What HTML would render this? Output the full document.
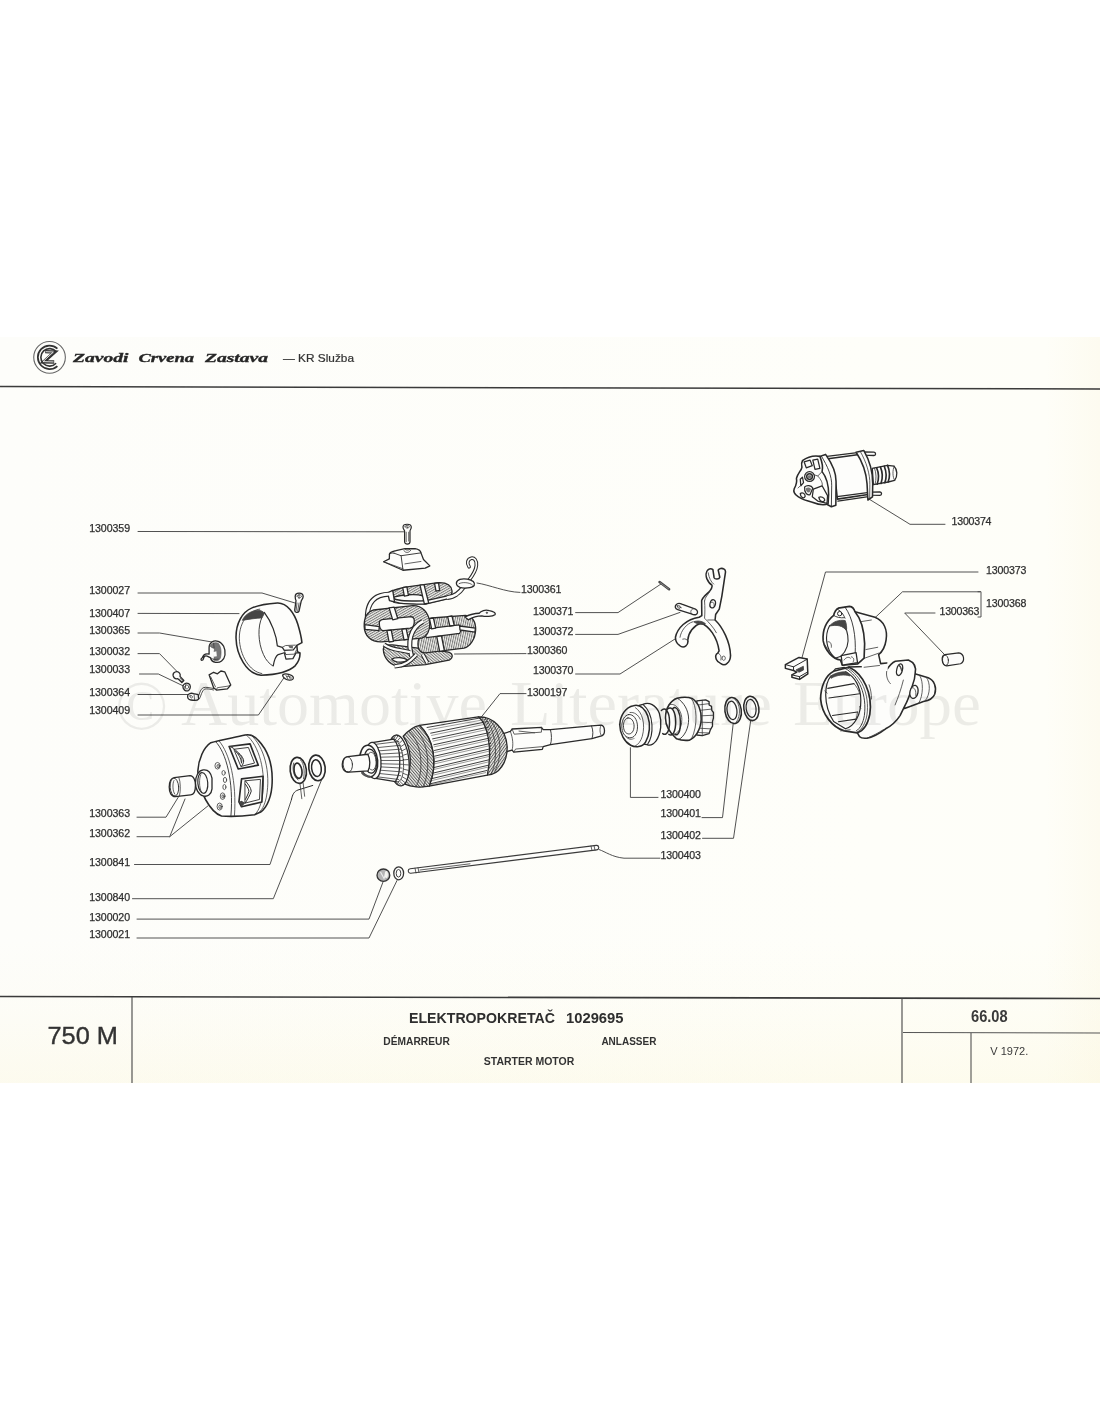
<!DOCTYPE html>
<html lang="sr"><head><meta charset="utf-8"><title>Elektropokretač 1029695 — 750 M</title>
<style>
html,body{margin:0;padding:0;background:#fff;}
body{width:1100px;height:1422px;overflow:hidden;font-family:"Liberation Sans",sans-serif;}
svg{display:block;}
.ln,.pt,.nf,.th,.dk,.hk{vector-effect:non-scaling-stroke;}
.ln{fill:none;stroke:#484848;stroke-width:0.95;stroke-linecap:round;stroke-linejoin:round;}
.pt{fill:#fdfdfb;stroke:#2a2a2a;stroke-width:1.3;stroke-linecap:round;stroke-linejoin:round;}
.nf{fill:none;stroke:#2a2a2a;stroke-width:1.25;stroke-linecap:round;stroke-linejoin:round;}
.th{fill:none;stroke:#3a3a3a;stroke-width:0.8;stroke-linecap:round;stroke-linejoin:round;}
.dk{fill:#444;stroke:#444;stroke-width:0.8;stroke-linejoin:round;}
.lb{font-family:"Liberation Sans",sans-serif;font-size:10.6px;fill:#2e2e2e;letter-spacing:0.1px;stroke:#2e2e2e;stroke-width:0.25px;}
</style></head><body>
<svg width="1100" height="1422" viewBox="0 0 1100 1422">
<!-- 00_bg.svg -->
<defs>
<filter id="soft" x="0" y="0" width="1100" height="1422" filterUnits="userSpaceOnUse"><feGaussianBlur stdDeviation="0.5"/></filter>
<linearGradient id="pg" x1="0" y1="0" x2="1" y2="0">
<stop offset="0" stop-color="#fdfdfa"/><stop offset="0.8" stop-color="#fefef9"/><stop offset="0.95" stop-color="#fefef8"/><stop offset="1" stop-color="#fdfbf0"/>
</linearGradient>
<pattern id="hatch" width="2.2" height="2.2" patternUnits="userSpaceOnUse" patternTransform="rotate(60)"><rect width="2.2" height="2.2" fill="#fdfdfb"/><line x1="0" y1="0" x2="0" y2="2.2" stroke="#333" stroke-width="1.5"/></pattern>
<pattern id="hatch2" width="2.6" height="2.6" patternUnits="userSpaceOnUse" patternTransform="rotate(-35)"><rect width="2.6" height="2.6" fill="#fdfdfb"/><line x1="0" y1="0" x2="0" y2="2.6" stroke="#333" stroke-width="1.3"/></pattern>
<linearGradient id="pgv" x1="0" y1="0" x2="0" y2="1"><stop offset="0" stop-color="#fbf6d8" stop-opacity="0"/><stop offset="0.45" stop-color="#fbf6d8" stop-opacity="0.10"/><stop offset="1" stop-color="#fbf4d0" stop-opacity="0.28"/></linearGradient>
</defs>
<rect x="0" y="0" width="1100" height="1422" fill="#ffffff"/>
<rect x="0" y="337" width="1100" height="746" fill="url(#pg)"/>
<rect x="0" y="940" width="1100" height="143" fill="url(#pgv)"/>
<!-- watermark -->


<g filter="url(#soft)">
<!-- 01_header.svg -->
<g id="header">
<line x1="0" y1="386.6" x2="1100" y2="389" stroke="#3a3a3a" stroke-width="1.5"/>
<g transform="translate(25 335) scale(0.054545)">
<circle cx="450" cy="410" r="290" fill="none" stroke="#666" stroke-width="20"/>
<path d="M594 250 A215 215 0 1 0 594 570" fill="none" stroke="#333" stroke-width="32"/>
<path d="M573 307 A160 160 0 1 0 569 517" fill="none" stroke="#333" stroke-width="30"/>
<path d="M370 305 L545 312 L345 492 L535 495" fill="none" stroke="#333" stroke-width="62" stroke-linejoin="miter"/>
<path d="M380 306 L520 312 L330 488 L525 494" fill="none" stroke="#fdfdfb" stroke-width="16" stroke-linejoin="miter"/>
</g>
<g font-family="'Liberation Serif',serif" font-weight="bold" font-style="italic" font-size="13.5" fill="#262626" stroke="#262626" stroke-width="0.35">
<text x="73" y="362.3" textLength="55.5" lengthAdjust="spacingAndGlyphs">Zavodi</text>
<text x="138.5" y="362.3" textLength="55.5" lengthAdjust="spacingAndGlyphs">Crvena</text>
<text x="205" y="362.3" textLength="63" lengthAdjust="spacingAndGlyphs">Zastava</text>
</g>
<text x="283" y="361.5" font-family="'Liberation Sans',sans-serif" font-size="10.2" fill="#333" stroke="#333" stroke-width="0.2" textLength="71" lengthAdjust="spacingAndGlyphs">— KR Služba</text>
</g>

<!-- 02_footer.svg -->
<g id="footer">
<line x1="0" y1="996.5" x2="1100" y2="998.5" stroke="#3a3a3a" stroke-width="1.6"/>
<line x1="132" y1="997" x2="132" y2="1083" stroke="#444" stroke-width="1.1"/>
<line x1="902" y1="998" x2="902" y2="1083" stroke="#444" stroke-width="1.1"/>
<line x1="903" y1="1032.5" x2="1100" y2="1033" stroke="#555" stroke-width="1"/>
<line x1="971" y1="1033" x2="971" y2="1083" stroke="#444" stroke-width="1"/>
<text x="47.5" y="1043.6" font-family="'Liberation Sans',sans-serif" font-size="23.4" fill="#333" stroke="#333" stroke-width="0.35" textLength="70.5" lengthAdjust="spacingAndGlyphs">750 M</text>
<text x="409" y="1023.2" font-family="'Liberation Sans',sans-serif" font-weight="bold" font-size="14" fill="#2e2e2e" textLength="146" lengthAdjust="spacingAndGlyphs">ELEKTROPOKRETAČ</text>
<text x="566" y="1023.2" font-family="'Liberation Sans',sans-serif" font-weight="bold" font-size="14" fill="#2e2e2e" textLength="57.5" lengthAdjust="spacingAndGlyphs">1029695</text>
<text x="383.3" y="1045" font-family="'Liberation Sans',sans-serif" font-weight="bold" font-size="10.8" fill="#333" textLength="66.5" lengthAdjust="spacingAndGlyphs">DÉMARREUR</text>
<text x="601.4" y="1045" font-family="'Liberation Sans',sans-serif" font-weight="bold" font-size="10.8" fill="#333" textLength="55" lengthAdjust="spacingAndGlyphs">ANLASSER</text>
<text x="483.8" y="1065.2" font-family="'Liberation Sans',sans-serif" font-weight="bold" font-size="10.8" fill="#333" textLength="90.5" lengthAdjust="spacingAndGlyphs">STARTER MOTOR</text>
<text x="971" y="1022" font-family="'Liberation Sans',sans-serif" font-weight="bold" font-size="15.8" fill="#3a3a3a" textLength="36.6" lengthAdjust="spacingAndGlyphs">66.08</text>
<text x="990.3" y="1055" font-family="'Liberation Sans',sans-serif" font-size="11" fill="#3a3a3a" textLength="38" lengthAdjust="spacingAndGlyphs">V 1972.</text>
</g>

<!-- 03_labels.svg -->
<g id="labels" class="lb">
<text x="89.2" y="531.5" textLength="41">1300359</text>
<text x="89.2" y="594.4" textLength="41">1300027</text>
<text x="89.2" y="616.6" textLength="41">1300407</text>
<text x="89.2" y="634.4" textLength="41">1300365</text>
<text x="89.2" y="654.7" textLength="41">1300032</text>
<text x="89.2" y="672.9" textLength="41">1300033</text>
<text x="89.2" y="695.6" textLength="41">1300364</text>
<text x="89.2" y="714.4" textLength="41">1300409</text>
<text x="89.2" y="816.6" textLength="41">1300363</text>
<text x="89.2" y="837.1" textLength="41">1300362</text>
<text x="89.2" y="865.6" textLength="41">1300841</text>
<text x="89.2" y="900.7" textLength="41">1300840</text>
<text x="89.2" y="920.5" textLength="41">1300020</text>
<text x="89.2" y="937.5" textLength="41">1300021</text>
<text x="521" y="592.5" textLength="40.5">1300361</text>
<text x="533" y="614.8" textLength="40.5">1300371</text>
<text x="533" y="634.8" textLength="40.5">1300372</text>
<text x="527" y="654.4" textLength="40.5">1300360</text>
<text x="533" y="674.4" textLength="40.5">1300370</text>
<text x="527" y="696" textLength="40.5">1300197</text>
<text x="660.6" y="797.6" textLength="40.5">1300400</text>
<text x="660.6" y="817.4" textLength="40.5">1300401</text>
<text x="660.6" y="838.6" textLength="40.5">1300402</text>
<text x="660.6" y="859" textLength="40.5">1300403</text>
<text x="951.6" y="525" textLength="40">1300374</text>
<text x="986" y="573.7" textLength="40.5">1300373</text>
<text x="986" y="606.6" textLength="40.5">1300368</text>
<text x="939.5" y="614.8" textLength="40">1300363</text>
</g>
<g id="leaders" class="ln">
<path d="M138 531.5 L403.6 531.8"/>
<path d="M138 593 L262 593 L295 603"/>
<path d="M138 613.4 L239 613.6"/>
<path d="M138 633 L159.5 633 L212 642"/>
<path d="M138 653.6 L159.5 653.6 L178 672.5"/>
<path d="M139.5 674 L158.4 674 L183.4 686"/>
<path d="M138 694.5 L189 694.5"/>
<path d="M138 715 L258.4 715 L284.5 677"/>
<path d="M137 817.2 L166 817.2 L179 796"/>
<path d="M137 836.7 L169.7 836.7 L185 799 M169.7 836.7 L207.8 806"/>
<path d="M134.5 864.5 L270 864.5 L291.5 799.5"/>
<path d="M132.5 898.7 L273.3 898.7 L321.5 780"/>
<path d="M137 919.1 L369 919.1 L383 882"/>
<path d="M137 938 L369 938 L397 880.5"/>
<path d="M520 592.4 C505 592 490 585 477 583"/>
<path d="M575.6 612.6 L618 612.6 L661 584"/>
<path d="M575.6 634.4 L618 634.4 L680 612.4"/>
<path d="M526 653.6 L454.5 654"/>
<path d="M575.6 674 L620 674 L675 639"/>
<path d="M526 693.6 L500 693.6 L475 725"/>
<path d="M658 797.4 L630.4 797.4 L630.4 747.7"/>
<path d="M702 817.6 L722.5 817.6 L733.5 721"/>
<path d="M702.5 838.3 L733.5 838.3 L751.4 715.8"/>
<path d="M660 858.2 L624 858.2 C612 857 606 852 599 849.5"/>
<path d="M945 524.3 L910 524.3 L869.7 499.5"/>
<path d="M978 572 L825.5 572 L801.7 658.7"/>
<path d="M980 591.8 L902.5 591.8 L874.7 618"/>
<path d="M978 591.7 L981 591.7 L981 617 L978 617"/>
<path d="M935 613 L904.7 613 L945.5 655.6"/>
</g>

<!-- 10_screw_shoe.svg -->
<g transform="translate(375 515) scale(0.063636)">
<path class="pt" d="M440 190 C440 130 570 130 570 190 C570 225 550 235 550 250 L550 420 C550 470 465 470 465 420 L465 250 C465 235 440 225 440 190 Z" style="stroke-width:1.2"/>
<path class="th" d="M470 180 C480 160 530 160 540 180 C535 215 480 215 470 180 M500 175 L512 200 M490 270 L490 420 M530 270 L530 410"/>
<path class="pt" d="M135 735 L225 690 L228 610 C235 585 280 575 330 560 L470 530 L630 528 C690 540 720 570 722 595 L762 700 L862 800 L790 835 L440 868 Z"/>
<path class="nf" d="M300 600 L410 640 L722 595 M410 640 L440 866 M300 600 C260 595 235 600 228 612" style="stroke-width:0.9"/>
<path class="th" d="M470 768 L722 730 M455 560 C470 600 540 600 560 555 M470 535 C480 560 540 560 555 532 M135 735 L440 845"/>
</g>

<!-- 11_coils.svg -->
<g transform="translate(340 550) scale(0.181818)">
<defs>
<pattern id="hc1" width="12" height="12" patternUnits="userSpaceOnUse" patternTransform="rotate(60)"><rect width="12" height="12" fill="#f0f0ec"/><line x1="3" y1="0" x2="3" y2="12" stroke="#555" stroke-width="4.2"/></pattern>
<pattern id="hc2" width="12" height="12" patternUnits="userSpaceOnUse" patternTransform="rotate(-50)"><rect width="12" height="12" fill="#f0f0ec"/><line x1="3" y1="0" x2="3" y2="12" stroke="#555" stroke-width="4.2"/></pattern>
<pattern id="hc3" width="12" height="12" patternUnits="userSpaceOnUse" patternTransform="rotate(12)"><rect width="12" height="12" fill="#f0f0ec"/><line x1="3" y1="0" x2="3" y2="12" stroke="#555" stroke-width="4.2"/></pattern>
</defs>
<!-- hook -->
<path d="M708 168 C730 140 748 110 750 85 C752 55 738 42 722 45 C702 50 696 72 710 92" fill="none" stroke="#2a2a2a" stroke-width="20" stroke-linecap="round"/>
<path d="M708 168 C730 140 748 110 750 85 C752 55 738 42 722 45 C702 50 696 72 710 92" fill="none" stroke="#fdfdfb" stroke-width="9" stroke-linecap="round"/>
<!-- top coil: back/top surface -->
<path class="pt" d="M268 240 C275 225 300 218 350 205 L540 180 C585 178 612 195 616 225 C618 245 608 258 596 266 L470 296 L322 292 C285 290 266 270 268 240 Z" style="fill:url(#hc1)"/>
<path class="pt" d="M300 258 C340 246 420 240 455 252 C475 262 470 280 440 288 C400 295 340 292 315 284 C295 276 290 266 300 258 Z"/>
<path class="pt" d="M272 272 C300 292 330 296 470 298 L598 268 L590 252 L468 280 C340 282 310 278 285 262 Z"/>
<path class="pt" d="M345 207 L368 203 L376 250 L354 254 Z M440 193 L462 190 L488 292 L464 296 Z M262 235 L290 222 L300 286 L272 278 Z M520 183 L542 181 L548 222 L528 226 Z"/>
<!-- lead left coil to top -->
<path d="M150 372 C150 300 180 245 268 243" fill="none" stroke="#2a2a2a" stroke-width="27"/>
<path d="M150 374 C150 300 180 245 270 243" fill="none" stroke="#fdfdfb" stroke-width="15"/>
<!-- lead top coil to lug -->
<path d="M590 262 C630 258 655 240 682 200" fill="none" stroke="#2a2a2a" stroke-width="26"/>
<path d="M588 262 C630 258 655 240 684 198" fill="none" stroke="#fdfdfb" stroke-width="14"/>
<path class="pt" d="M640 182 C642 162 670 155 700 160 C730 165 745 180 738 195 C725 210 680 212 660 206 C645 200 640 192 640 182 Z"/>
<path class="th" d="M655 185 C670 175 715 178 728 192"/>
<!-- bottom coil -->
<path class="pt" d="M238 545 C240 525 262 520 290 522 L590 560 C622 566 626 590 600 606 L470 630 L340 642 C280 640 240 600 238 545 Z" style="fill:url(#hc2)"/>
<path class="pt" d="M285 600 C305 588 350 590 372 605 C355 622 305 622 285 600 Z"/>
<!-- right coil -->
<path class="pt" d="M462 400 C470 385 485 378 505 374 L690 360 C728 362 748 395 746 440 C744 490 715 532 682 540 L470 566 C435 566 425 540 430 500 Z" style="fill:url(#hc3)"/>
<path class="pt" d="M472 434 L655 412 C668 425 668 445 658 458 L476 482 C462 470 462 448 472 434 Z"/>
<!-- left coil -->
<path class="pt" d="M133 420 C132 375 150 340 185 330 L400 306 C452 304 488 345 494 400 C496 440 480 475 450 485 L230 505 C170 508 134 470 133 420 Z" style="fill:url(#hc1)"/>
<path class="pt" d="M216 400 C216 388 225 384 240 382 L392 367 C408 368 410 385 408 402 C406 420 398 428 385 430 L240 444 C220 444 216 420 216 400 Z"/>
<!-- middle loop tube -->
<path d="M395 585 C370 510 385 430 455 393" fill="none" stroke="#2a2a2a" stroke-width="28"/>
<path d="M395 587 C370 510 385 430 457 392" fill="none" stroke="#fdfdfb" stroke-width="15"/>
<!-- bottom loop tubes -->
<path d="M242 520 C280 550 330 548 385 562 M300 640 C370 635 395 600 420 575 M455 575 L480 620" fill="none" stroke="#2a2a2a" stroke-width="24"/>
<path d="M242 520 C280 550 330 548 385 562 M300 640 C370 635 395 600 420 575 M455 575 L480 620" fill="none" stroke="#fdfdfb" stroke-width="12"/>
<!-- tapes -->
<path class="pt" d="M270 318 L298 314 L318 378 L290 384 Z M136 410 L216 422 L214 444 L138 436 Z M258 444 L282 441 L294 502 L270 506 Z M340 436 L364 433 L376 490 L352 494 Z"/>
<path class="pt" d="M492 378 L514 375 L526 430 L504 434 Z M592 366 L616 363 L628 414 L604 418 Z M532 476 L558 472 L574 553 L548 557 Z M658 418 L745 430 L742 452 L660 440 Z"/>
<!-- right lead + snake lug -->
<path class="pt" d="M688 368 C720 352 745 348 765 348 C775 335 800 326 822 334 C842 338 860 346 852 356 C838 366 800 368 780 362 C755 362 725 372 705 384 Z"/>
<circle cx="808" cy="345" r="4" class="dk"/>
</g>

<!-- 12_band.svg -->
<g transform="translate(225 585) scale(0.081818)">
<!-- band 1300407 -->
<path class="pt" d="M640 220 C520 228 400 250 330 280 C210 330 130 470 135 650 C140 850 260 1085 440 1102 C600 1097 780 1062 860 985 C900 935 920 870 915 830 L885 815 L878 738 L940 705 C935 650 920 580 890 480 C850 350 760 215 640 220 Z" style="stroke-width:1.55"/>
<path class="nf" d="M425 295 C300 310 175 440 175 650 C180 860 300 1060 450 1082" style="stroke-width:0.8"/>
<path class="nf" d="M480 335 C570 450 630 620 640 745 L700 762 L725 800 L835 792 L878 738"/>
<path class="nf" d="M450 400 C400 500 400 700 470 850 C500 920 540 960 585 990" style="stroke-width:0.9"/>
<path class="nf" d="M590 985 C605 900 620 870 650 850 L725 828 L745 905 L830 900 L868 830 L915 830"/>
<path class="th" d="M700 762 L740 740 L860 735 M725 800 L745 850 L850 845 L870 800 M725 828 L745 850"/>
<path class="dk" d="M212 432 C240 370 300 320 400 308 C440 310 470 325 482 345 L452 402 C380 405 280 420 212 432 Z"/>
<path class="dk" d="M770 740 L830 745 L830 775 L790 770 Z" style="fill:#666;stroke:none"/>
<!-- screw 1300027 -->
<path class="pt" d="M858 140 C858 85 955 85 955 140 C955 170 935 180 932 195 L905 320 C890 345 850 335 852 305 L868 190 C860 175 858 160 858 140 Z"/>
<path class="th" d="M880 135 C890 115 925 115 935 135 C930 165 890 165 880 135 M905 110 L905 165 M880 220 L870 310 M905 220 L888 320"/>
<!-- clip 1300409 -->
<path class="pt" d="M705 1100 C720 1085 760 1085 790 1095 C830 1105 845 1130 830 1150 C810 1170 760 1165 740 1150 C720 1135 700 1120 705 1100 Z"/>
<path class="th" d="M745 1105 L770 1150 M770 1100 L800 1150 M760 1120 C780 1110 810 1120 815 1140"/>
</g>

<!-- 13_small_left.svg -->
<g transform="translate(150 625) scale(0.090909)">
<!-- brush holder 1300365 -->
<path class="pt" d="M650 250 C650 190 700 165 750 180 C800 195 835 260 825 330 C815 390 770 420 720 410 C690 405 670 380 665 360 C640 350 620 330 600 345 C580 360 600 385 570 390 C555 385 560 370 575 360 C585 330 610 310 650 320 Z"/>
<path d="M660 230 C670 200 720 185 750 200 C780 230 790 300 775 360 C765 395 720 400 700 385 C715 350 700 300 710 260 C690 250 675 250 660 230 Z" fill="#777" stroke="#444" stroke-width="6"/>
<path d="M690 300 L730 290 L735 345 L700 350 Z" fill="#fdfdfb"/>
<path class="th" d="M665 360 C690 380 720 385 750 375 M700 200 L705 250"/>
<!-- 1300032 screw -->
<path class="pt" d="M255 560 C245 520 300 495 325 530 C335 545 335 555 330 565 L372 610 L350 632 L305 590 C285 595 262 585 255 560 Z"/>
<path class="th" d="M330 585 L362 620 M318 595 L352 630"/>
<!-- 1300033 washer -->
<path class="pt" d="M362 680 C362 650 395 630 425 645 C450 660 450 700 425 720 C400 735 362 715 362 680 Z"/>
<path class="th" d="M385 680 C385 665 400 655 415 662 C430 672 428 695 412 702 C398 706 385 695 385 680 Z M395 650 L380 715"/>
<!-- 1300364 brush -->
<path class="pt" d="M650 548 L700 520 L742 537 L780 506 L822 515 L888 660 L852 702 L732 716 L700 690 Z"/>
<path class="th" d="M730 715 L740 690 L860 672 L888 660 M668 570 L720 680"/>
<path class="nf" d="M705 700 C650 690 620 680 585 690 C545 710 550 760 525 800 M700 715 C660 705 630 700 600 705 C570 725 565 770 545 810" style="stroke-width:0.8"/>
<path class="pt" d="M415 775 C420 755 450 745 480 755 L530 765 L535 815 C520 835 480 830 450 825 C420 822 410 800 415 775 Z"/>
<path class="th" d="M440 780 C455 770 470 780 468 795 C460 810 440 805 440 780 Z M485 765 L490 822"/>
</g>

<!-- 14_endcover.svg -->
<g transform="translate(160 725) scale(0.118182)">
<!-- cover body -->
<path class="pt" d="M430 150 C500 128 620 108 720 85 C760 78 800 92 830 128 C900 200 962 330 947 520 C937 640 885 728 832 745 L800 760 C700 772 600 777 520 770 C430 740 320 560 320 390 C325 290 370 190 430 150 Z" style="stroke-width:1.55"/>
<path class="nf" d="M470 140 C560 230 625 480 600 770" style="stroke-width:0.9"/>
<path class="th" d="M500 135 C590 240 650 480 630 768 M770 85 C880 180 940 400 900 610 C885 680 860 730 830 745 M730 84 C840 170 900 400 865 610 C850 690 830 735 800 758" />
<!-- windows -->
<path class="pt" d="M585 182 L762 160 L832 340 L662 372 Z" style="stroke-width:1.65"/>
<path class="nf" d="M628 205 L748 190 L800 322 L688 350 Z" style="stroke-width:0.9"/>
<path class="nf" d="M628 205 C660 230 705 265 708 305 C706 325 698 340 688 350 M640 222 C668 250 688 285 690 320" style="stroke-width:1"/>
<path class="th" d="M660 240 C690 250 700 290 690 320"/>
<path class="pt" d="M690 456 L872 434 L862 652 L690 692 L668 650 Z" style="stroke-width:1.65"/>
<path class="nf" d="M722 472 L850 460 L842 630 L722 660 Z" style="stroke-width:0.9"/>
<path class="nf" d="M722 472 C745 500 770 530 772 560 C760 600 735 635 722 660 M722 500 C740 525 752 545 752 562 C745 590 730 615 722 630" style="stroke-width:1"/>
<path class="dk" d="M690 692 L668 650 L690 640 L722 660 Z" style="fill:#444;stroke:none"/>
<path class="dk" d="M585 182 L610 180 L640 215 L628 205 Z" style="fill:#444;stroke:none"/>
<!-- face holes -->
<g>
<ellipse class="th" cx="487" cy="345" rx="22" ry="28"/><ellipse class="th" cx="492" cy="348" rx="10" ry="14"/>
<ellipse class="th" cx="538" cy="405" rx="14" ry="20"/>
<ellipse class="th" cx="550" cy="465" rx="14" ry="22"/>
<ellipse class="th" cx="545" cy="525" rx="13" ry="22"/>
<ellipse class="th" cx="530" cy="602" rx="20" ry="28"/><ellipse class="th" cx="533" cy="604" rx="9" ry="14"/>
<ellipse class="th" cx="505" cy="690" rx="22" ry="30"/><ellipse class="th" cx="508" cy="692" rx="10" ry="15"/>
</g>
<!-- bush on face -->
<path class="pt" d="M365 380 C400 375 430 400 440 450 L440 540 C435 590 400 610 365 600 C325 590 300 540 300 490 C300 430 325 385 365 380 Z"/>
<ellipse class="nf" cx="362" cy="490" rx="42" ry="88" transform="rotate(-5 362 490)" style="stroke-width:1.2"/>
<path class="th" d="M345 420 C330 450 330 530 350 565"/>
<!-- separate bush 1300363 -->
<path class="pt" d="M120 445 L255 428 C285 430 300 470 300 510 C300 560 285 590 260 592 L130 606 C95 606 78 570 78 525 C78 480 95 447 120 445 Z"/>
<ellipse class="nf" cx="122" cy="525" rx="36" ry="76" transform="rotate(-4 122 525)" style="stroke-width:0.9"/>
<path class="th" d="M118 470 C105 490 105 560 125 585 M160 445 C175 480 175 560 165 600"/>
</g>

<!-- 19_shaft.svg -->
<g transform="translate(500 700) scale(0.172727)">
<path class="pt" d="M0 200 L60 182 L70 168 L240 158 L250 172 L292 172 L530 150 L585 146 C610 150 612 200 588 208 L532 224 L292 258 L250 270 L245 286 L80 302 L70 290 L0 310 Z"/>
<path class="nf" d="M292 172 C300 200 300 235 292 258 M530 150 C540 175 540 205 532 224" style="stroke-width:0.9"/>
<path class="th" d="M70 168 L82 198 L240 186 L240 158 M80 302 L90 284 L245 270 M110 180 L200 190 M585 146 C575 165 578 195 588 208 M60 182 C75 220 78 260 70 290"/>
</g>

<!-- 20_armature.svg -->
<g transform="translate(335 690) scale(0.172727)">
<defs>
<pattern id="ha1" width="13" height="13" patternUnits="userSpaceOnUse" patternTransform="rotate(35)"><rect width="13" height="13" fill="#efefeb"/><line x1="3" y1="0" x2="3" y2="13" stroke="#4a4a4a" stroke-width="5"/></pattern>
<pattern id="ha2" width="13" height="13" patternUnits="userSpaceOnUse" patternTransform="rotate(-40)"><rect width="13" height="13" fill="#efefeb"/><line x1="3" y1="0" x2="3" y2="13" stroke="#4a4a4a" stroke-width="5"/></pattern>
</defs>
<path class="pt" d="M830 156 C905 150 992 220 997 330 C997 420 952 490 882 493 Z" style="fill:url(#ha1)"/>
<path class="th" d="M900 180 C960 240 975 380 925 470 M870 165 C930 230 950 390 905 485"/>
<path class="pt" d="M490 205 L830 155 C880 195 915 330 882 493 L545 557 C600 420 570 280 490 205 Z"/>
<path class="nf" d="M533 217 L862 158" style="stroke-width:0.9"/>
<path class="th" d="M543 230 L873 170" style="stroke-width:0.5"/>
<path class="nf" d="M554 250 L880 183" style="stroke-width:0.9"/>
<path class="th" d="M559 263 L884 195" style="stroke-width:0.5"/>
<path class="nf" d="M565 283 L890 214" style="stroke-width:0.9"/>
<path class="th" d="M568 296 L893 226" style="stroke-width:0.5"/>
<path class="nf" d="M572 317 L896 246" style="stroke-width:0.9"/>
<path class="th" d="M574 329 L898 258" style="stroke-width:0.5"/>
<path class="nf" d="M576 350 L900 277" style="stroke-width:0.9"/>
<path class="th" d="M577 362 L901 289" style="stroke-width:0.5"/>
<path class="nf" d="M577 383 L902 309" style="stroke-width:0.9"/>
<path class="th" d="M577 395 L902 321" style="stroke-width:0.5"/>
<path class="nf" d="M576 416 L902 340" style="stroke-width:0.9"/>
<path class="th" d="M574 428 L901 352" style="stroke-width:0.5"/>
<path class="nf" d="M572 449 L900 372" style="stroke-width:0.9"/>
<path class="th" d="M569 461 L899 383" style="stroke-width:0.5"/>
<path class="nf" d="M564 482 L896 403" style="stroke-width:0.9"/>
<path class="th" d="M560 495 L894 415" style="stroke-width:0.5"/>
<path class="nf" d="M552 515 L890 435" style="stroke-width:0.9"/>
<path class="th" d="M546 528 L886 446" style="stroke-width:0.5"/>
<path class="nf" d="M530 548 L879 466" style="stroke-width:0.9"/>
<path class="th" d="M515 557 L873 478" style="stroke-width:0.5"/>
<path class="pt" d="M395 268 C430 228 465 210 490 205 C565 275 600 420 545 557 C500 566 440 562 405 545 C450 450 445 340 395 268 Z" style="fill:url(#ha2)"/>
<path class="th" d="M430 240 C500 300 520 460 470 560 M460 220 C540 290 560 450 510 562"/>
<ellipse class="pt" cx="368" cy="408" rx="60" ry="148" transform="rotate(-6 368 408)"/>
<path class="th" d="M398 405 L424 402"/>
<path class="th" d="M400 432 L426 434"/>
<path class="th" d="M399 459 L425 465"/>
<path class="th" d="M396 483 L421 493"/>
<path class="th" d="M391 503 L414 517"/>
<path class="th" d="M384 519 L405 536"/>
<path class="th" d="M375 529 L394 547"/>
<path class="th" d="M365 533 L381 552"/>
<path class="th" d="M355 531 L368 550"/>
<path class="th" d="M344 523 L355 541"/>
<path class="th" d="M334 509 L342 525"/>
<path class="th" d="M324 490 L330 503"/>
<path class="th" d="M316 468 L321 476"/>
<path class="th" d="M310 442 L313 446"/>
<path class="th" d="M306 414 L308 414"/>
<path class="th" d="M305 387 L306 382"/>
<path class="th" d="M305 360 L307 351"/>
<path class="th" d="M308 337 L311 323"/>
<path class="th" d="M313 316 L318 299"/>
<path class="th" d="M321 301 L327 281"/>
<path class="th" d="M329 291 L338 269"/>
<path class="th" d="M339 286 L351 264"/>
<path class="th" d="M350 288 L364 266"/>
<path class="th" d="M360 296 L377 276"/>
<path class="th" d="M370 310 L390 292"/>
<path class="th" d="M380 329 L402 314"/>
<path class="th" d="M388 352 L411 340"/>
<path class="th" d="M394 378 L419 370"/>
<ellipse class="nf" cx="350" cy="408" rx="46" ry="124" transform="rotate(-6 350 408)" style="stroke-width:0.8"/>
<path class="pt" d="M215 305 L340 285 C385 330 385 480 350 530 L235 512 C190 480 185 340 215 305 Z"/>
<path class="th" d="M240 314 L369 298"/>
<path class="th" d="M251 333 L380 320"/>
<path class="th" d="M257 352 L386 342"/>
<path class="th" d="M261 371 L389 364"/>
<path class="th" d="M263 389 L391 386"/>
<path class="th" d="M264 408 L392 408"/>
<path class="th" d="M263 427 L391 430"/>
<path class="th" d="M261 445 L389 452"/>
<path class="th" d="M257 464 L386 474"/>
<path class="th" d="M251 483 L380 496"/>
<path class="th" d="M240 502 L369 518"/>
<ellipse class="pt" cx="222" cy="408" rx="44" ry="105" transform="rotate(-5 222 408)"/>
<ellipse class="pt" cx="195" cy="412" rx="52" ry="92" transform="rotate(-5 195 412)" style="stroke-width:1.55"/>
<ellipse class="nf" cx="205" cy="412" rx="36" ry="70" transform="rotate(-5 205 412)"/>
<ellipse class="th" cx="212" cy="412" rx="26" ry="52" transform="rotate(-5 212 412)"/>
<path class="dk" d="M150 480 C165 500 185 510 215 500 C195 495 170 490 158 465 Z" style="fill:#555;stroke:none"/>
<path class="pt" d="M75 386 L190 372 C205 400 205 440 192 468 L82 476 C50 476 40 450 42 430 C44 405 55 388 75 386 Z"/>
<ellipse class="nf" cx="74" cy="431" rx="27" ry="45" transform="rotate(-5 74 431)" style="stroke-width:0.9"/>
</g>

<!-- 21_pinion.svg -->
<g transform="translate(615 690) scale(0.136364)">
<!-- gear teeth -->
<path class="pt" d="M600 80 L665 72 L690 85 L690 110 L708 120 L710 150 L722 165 L722 205 L715 230 L715 265 L700 290 L690 320 L640 335 L600 330 Z"/>
<path class="th" d="M610 110 L690 100 M615 150 L708 140 M620 190 L722 185 M620 235 L715 240 M615 280 L702 285 M610 312 L690 315 M640 75 L640 335"/>
<!-- clutch body -->
<path class="pt" d="M455 60 C490 52 540 52 565 62 C610 90 635 150 632 215 C630 290 590 350 545 368 C510 372 480 368 452 358 C420 330 370 280 370 205 C370 130 410 75 455 60 Z" style="stroke-width:1.55"/>
<path class="nf" d="M460 62 C505 90 540 150 540 215 C540 280 510 340 470 362" style="stroke-width:0.9"/>
<path class="th" d="M395 110 C440 85 490 150 490 215 C490 280 460 330 420 325 M560 64 C600 110 612 260 560 360"/>
<!-- spring -->
<path class="nf" d="M340 150 C370 120 400 160 400 235 C400 300 380 340 350 320 M385 140 C415 110 445 160 445 235 C445 300 425 345 395 325 M425 135 C455 110 480 170 480 235 C480 300 465 340 440 325" style="stroke-width:1.5"/>
<!-- second flange -->
<path class="pt" d="M205 105 C250 85 300 110 325 170 C345 230 340 320 300 375 C280 400 255 410 235 400 L150 390 L150 120 Z"/>
<path class="nf" d="M205 105 C290 180 285 330 238 400" style="stroke-width:1.1"/>
<!-- sleeve -->
<path class="pt" d="M135 115 C175 105 215 130 240 190 C262 250 255 330 225 380 C200 420 150 425 115 405 C70 380 35 320 35 255 C38 185 80 125 135 115 Z" style="stroke-width:1.55"/>
<path class="nf" d="M100 180 C135 175 165 215 165 270 C165 320 140 355 105 350 C70 345 50 310 50 265 C50 220 70 185 100 180 Z" style="stroke-width:0.9"/>
<path class="nf" d="M95 205 C120 202 140 230 140 265 C140 300 122 325 98 322 C75 318 62 295 62 262 C62 232 75 208 95 205 Z" style="stroke-width:0.9"/>
<path class="th" d="M150 130 C200 160 225 250 200 340 C190 375 170 400 150 410 M110 165 C140 160 170 180 185 215"/>
<path class="dk" d="M70 330 C90 355 120 365 150 350 C130 370 95 375 70 330 Z" style="fill:#666;stroke:none"/>
<!-- washers -->
<ellipse class="pt" cx="866" cy="150" rx="60" ry="96" transform="rotate(-8 866 150)" style="stroke-width:1.55"/>
<ellipse class="nf" cx="858" cy="150" rx="36" ry="68" transform="rotate(-8 858 150)"/>
<path class="th" d="M880 70 C920 100 925 190 890 235"/>
<ellipse class="pt" cx="1000" cy="135" rx="55" ry="90" transform="rotate(-8 1000 135)" style="stroke-width:1.55"/>
<ellipse class="nf" cx="998" cy="135" rx="36" ry="66" transform="rotate(-8 998 135)"/>
</g>

<!-- 22_fork.svg -->
<g transform="translate(650 560) scale(0.090909)">
<path class="pt" d="M640 105 C655 95 680 95 692 105 L705 195 C715 215 760 215 768 190 L750 112 C760 92 790 85 815 100 C828 108 832 120 830 135 L790 400 L762 540 L722 600 L716 660 C800 740 882 900 886 1050 C885 1090 870 1120 850 1135 C830 1155 800 1155 780 1140 C755 1130 738 1115 730 1095 C715 1060 725 1030 745 1025 L760 1000 C740 850 650 725 560 692 C480 720 420 800 416 880 C420 910 410 935 395 945 C375 960 345 958 325 940 C295 920 280 890 280 850 C300 750 400 650 540 630 L570 612 L568 445 C585 400 630 370 655 345 C675 320 690 295 680 275 C660 265 640 240 625 205 C612 170 615 125 640 105 Z" style="stroke-width:1.55"/>
<ellipse class="nf" cx="690" cy="482" rx="30" ry="46" transform="rotate(15 690 482)"/>
<path class="th" d="M672 470 C690 455 710 470 705 500 M600 450 C605 520 605 580 600 640 C640 680 700 740 730 800 M330 850 C340 780 400 700 470 680 M360 870 C390 860 412 875 416 895 M745 1025 C770 1030 790 1060 780 1100 M800 1060 C815 1050 830 1060 828 1085 C822 1110 800 1110 795 1090 Z M640 140 C650 200 670 240 700 265 M655 345 C640 390 605 400 600 450 M636 660 L716 660"/>
<path class="dk" d="M480 680 C520 665 570 668 610 700 C580 715 530 712 480 680 Z"/>
<!-- pin 1300372 -->
<path class="pt" d="M285 495 C300 475 330 475 350 485 L500 540 C530 555 530 590 505 600 C490 605 470 600 455 592 L305 545 C275 535 272 510 285 495 Z"/>
<path class="th" d="M300 505 C315 495 335 505 335 522 C330 540 305 538 300 505 Z M455 592 C440 570 450 540 480 535 M320 515 L345 525"/>
<!-- cotter 1300371 -->
<path d="M105 243 L210 322" fill="none" stroke="#444" stroke-width="28" stroke-linecap="round"/>
<path d="M112 250 L205 318" fill="none" stroke="#bbb" stroke-width="6" stroke-linecap="round"/>
</g>

<!-- 23_solenoid.svg -->
<g transform="translate(785 440) scale(0.109091)">
<!-- plunger / spring -->
<path class="pt" d="M800 260 L940 232 L1000 240 C1030 270 1035 330 1005 370 L945 385 L810 410 Z"/>
<path class="nf" d="M840 255 C860 300 860 360 845 405 M875 248 C895 295 895 355 880 398 M910 240 C930 290 930 350 915 392 M940 232 C960 280 960 345 945 385" style="stroke-width:1.65"/>
<path class="th" d="M1000 240 C985 280 985 340 1005 370 M820 258 C838 300 838 360 826 406"/>
<!-- studs -->
<path class="pt" d="M720 108 L815 112 C835 115 835 140 815 142 L730 138 Z M790 478 L870 476 C890 480 890 505 870 508 L790 505 Z"/>
<!-- body -->
<path class="pt" d="M395 172 L680 132 C730 200 765 350 762 500 L480 542 C470 400 440 260 395 172 Z" style="stroke-width:1.55"/>
<path class="nf" d="M385 150 L700 112 L705 132 M478 520 L772 480 M485 560 L765 520 L772 500" />
<path class="pt" d="M652 112 L722 96 C770 180 805 300 804 400 L802 522 L760 550 L752 400 C745 300 710 200 652 112 Z" style="stroke-width:1.55"/>
<path class="th" d="M690 105 C745 200 780 310 778 410 L776 538"/>
<!-- left flange -->
<path class="pt" d="M320 150 L372 132 C420 200 470 300 468 380 L466 598 L425 612 L330 560 L250 200 Z" style="stroke-width:1.55"/>
<path class="nf" d="M335 150 C390 240 430 330 428 420 L425 610" style="stroke-width:0.9"/>
<!-- terminal cap -->
<path class="pt" d="M160 190 C200 160 260 140 320 150 C340 200 350 250 340 290 C380 340 400 420 400 500 L395 585 C360 600 300 590 250 570 C200 560 150 540 120 520 C90 500 75 470 85 445 C100 420 110 380 105 350 C120 300 150 280 155 250 C150 225 150 205 160 190 Z" style="stroke-width:1.55"/>
<path class="nf" d="M175 200 L230 185 L250 235 L195 255 Z M255 185 L300 175 L320 260 L275 270 Z"/>
<circle class="nf" cx="225" cy="335" r="45"/><circle class="nf" cx="225" cy="335" r="26" style="stroke-width:1.5"/>
<path class="nf" d="M140 360 L160 340 L170 390 L145 420 Z M180 430 C200 410 240 415 255 440 L230 500 C200 510 175 480 180 430 Z M140 490 C160 475 185 490 185 515 C175 540 145 535 140 490 Z"/>
<path class="nf" d="M260 450 L340 420 L390 510 L385 580 L300 560 L250 520 Z M310 525 C330 515 360 525 365 550 C355 575 320 570 310 525 Z"/>
<path class="dk" d="M205 335 C205 318 245 318 245 335 C245 355 205 355 205 335 Z M190 445 C205 430 230 435 240 450 L225 480 C205 485 190 470 190 445 Z" style="fill:#777;stroke:none"/>
<path class="th" d="M300 330 C330 360 350 400 340 420 M120 440 L140 420 M340 290 L300 330 L270 320"/>
</g>

<!-- 24_housing.svg -->
<g transform="translate(780 595) scale(0.172727)">
<!-- bush 1300363 -->
<path class="pt" d="M955 345 L1035 335 C1068 340 1072 385 1045 398 L965 410 C935 410 930 350 955 345 Z" style="stroke-width:1.2"/>
<ellipse class="nf" cx="958" cy="378" rx="17" ry="30" transform="rotate(-5 958 378)" style="stroke-width:0.9"/>
</g>

<!-- 24a_lower.svg -->
<g transform="translate(810 660) scale(0.118182)">
<!-- nose -->
<path class="pt" d="M880 115 L1000 150 C1050 170 1075 230 1055 290 C1040 330 1000 345 960 352 L800 410 L780 250 Z" style="stroke-width:1.55"/>
<path class="th" d="M985 148 C1020 190 1020 290 975 345 M930 135 C960 180 960 300 920 365"/>
<!-- body -->
<path class="pt" d="M330 60 L470 55 L590 40 C620 60 640 75 652 80 C670 50 700 20 722 10 L832 0 C880 20 900 60 890 110 C888 150 880 180 870 205 C850 280 830 340 800 392 L762 470 C730 520 690 555 640 582 C590 620 540 650 482 662 C450 665 430 660 420 650 L400 615 Z" style="stroke-width:1.55"/>
<ellipse class="nf" cx="758" cy="82" rx="24" ry="50" transform="rotate(12 758 82)"/>
<path class="dk" d="M745 45 C760 35 775 60 775 95 C770 70 760 50 745 45 Z"/>
<ellipse class="pt" cx="880" cy="270" rx="34" ry="56" transform="rotate(12 880 270)"/>
<path class="th" d="M865 235 C885 230 900 260 895 300 M790 170 C770 250 745 320 720 380 M652 80 C640 120 650 170 680 200 M500 210 C515 250 520 290 520 330 M620 590 C600 600 560 630 482 662"/>
<!-- big ring -->
<path class="pt" d="M200 95 L330 60 C450 120 532 280 506 460 C490 540 450 600 400 616 L290 600 C190 570 100 460 90 330 C90 230 130 130 200 95 Z" style="stroke-width:1.7"/>
<path class="nf" d="M300 72 C420 140 482 300 460 470 C450 530 425 580 392 600" style="stroke-width:0.9"/>
<path class="th" d="M315 66 C435 132 505 290 482 465 C470 535 440 590 398 610"/>
<path class="nf" d="M180 132 C120 200 108 380 200 520 L300 582 C380 560 432 460 430 340 C430 230 380 140 300 100" style="stroke-width:1.2"/>
<path class="dk" d="M168 142 C200 112 260 98 305 100 C325 108 335 120 338 135 C290 120 230 125 178 155 Z"/>
<path class="nf" d="M150 240 L372 200 M160 322 L420 285 M190 470 L402 440 M240 522 L390 500" style="stroke-width:1.1"/>
<path class="th" d="M372 200 C395 225 412 255 420 285 M402 440 C400 460 395 480 390 500 M125 262 L145 280 M420 395 L430 410 M260 600 L340 590"/>
<path class="nf" d="M200 95 L215 75 L290 62 L300 72"/>
</g>

<!-- 24b_upper.svg -->
<g transform="translate(815 600) scale(0.090909)">
<!-- dome -->
<path d="M440 130 L660 190 C760 230 800 330 782 440 C770 520 740 570 700 600 L722 700 L800 690 L800 780 L520 780 L480 400 Z" fill="#fdfdfb"/>
<path class="nf" d="M440 130 L660 190 C760 230 800 330 782 440 C770 520 740 570 700 600 L722 700 L790 692" style="stroke-width:1.55"/>
<path class="th" d="M480 242 L620 220 M560 545 L690 520 M545 640 L700 585 M540 740 L710 720"/>
<!-- ring -->
<path class="pt" d="M205 170 C215 130 235 100 255 90 L380 70 C420 75 432 100 440 130 C500 200 540 330 546 480 L540 640 L470 702 L300 716 L280 660 C200 650 110 560 90 450 C80 340 120 240 205 170 Z" style="stroke-width:1.65"/>
<path class="nf" d="M160 282 C108 380 110 540 222 640 L285 618 C350 560 375 470 360 390 C345 310 320 260 300 236" style="stroke-width:1.1"/>
<path class="dk" d="M155 288 C200 240 260 214 332 226 C346 260 352 300 346 338 C310 282 240 268 155 288 Z"/>
<path class="nf" d="M330 78 C420 200 452 400 442 590" style="stroke-width:0.9"/>
<path class="nf" d="M205 170 C235 190 280 200 320 195 M240 100 C275 110 310 150 330 200" style="stroke-width:0.9"/>
<circle class="nf" cx="272" cy="150" r="24" style="stroke-width:1"/>
<path class="pt" d="M288 612 L452 580 L468 690 L300 716 Z"/>
<path class="th" d="M320 660 C340 630 370 620 390 640 M400 625 C425 630 435 655 420 680 M140 460 C165 450 185 480 180 520 M100 480 L150 560"/>
</g>

<!-- 24c_clip.svg -->
<g transform="translate(775 640) scale(0.054545)">
<path class="pt" d="M190 450 L440 320 L590 350 L602 620 L450 722 L310 682 L310 640 L400 590 L340 560 L190 520 Z" style="stroke-width:1.5"/>
<path class="nf" d="M190 450 L340 492 L590 352 M340 492 L340 560 M310 640 L450 672 L600 585 M450 672 L450 722" style="stroke-width:1"/>
<path class="dk" d="M385 548 L520 482 L524 548 L440 592 Z"/>
</g>

<!-- 25_washers.svg -->
<g transform="translate(280 745) scale(0.054545)">
<ellipse class="pt" cx="335" cy="465" rx="148" ry="240" transform="rotate(-7 335 465)" style="stroke-width:1.65"/>
<ellipse class="nf" cx="330" cy="472" rx="72" ry="142" transform="rotate(-9 330 472)" style="stroke-width:1.65"/>
<path class="th" d="M250 330 C220 450 250 580 330 640 M380 280 C440 330 460 500 430 620"/>
<ellipse class="pt" cx="678" cy="420" rx="150" ry="236" transform="rotate(-7 678 420)" style="stroke-width:1.65"/>
<ellipse class="nf" cx="668" cy="425" rx="88" ry="155" transform="rotate(-7 668 425)" style="stroke-width:1.55"/>
<path class="nf" d="M210 1000 C230 900 260 850 330 825 L600 742" style="stroke-width:1"/>
<path class="th" d="M365 700 L400 985 M425 700 L452 940"/>
</g>

<!-- 26_rod.svg -->
<g>
<path d="M410.5 871 L596.5 847.6" fill="none" stroke="#3a3a3a" stroke-width="5.6" stroke-linecap="round"/>
<path d="M410.5 871 L596.5 847.6" fill="none" stroke="#fdfdfb" stroke-width="3.4" stroke-linecap="round"/>
<path class="th" d="M415 868.2 L416 873 M418 867.8 L419 872.6 M591 846 L592 850.6 M594 845.6 L595 850.2 M420 870 L470 863.8"/>
<!-- nut 1300020 -->
<ellipse cx="383.4" cy="875.2" rx="6.4" ry="6.2" fill="#b4b4b4" stroke="#333" stroke-width="1.3"/>
<path d="M380.5 872 L384 878.5 L386.5 871.5" fill="none" stroke="#eee" stroke-width="1.1"/>
<ellipse cx="386.3" cy="874.5" rx="1.6" ry="3.6" fill="#f4f4f0" stroke="none"/>
<!-- washer 1300021 -->
<ellipse cx="398.7" cy="873.3" rx="4.9" ry="6.5" fill="#fdfdfb" stroke="#333" stroke-width="1.3"/>
<ellipse cx="398.5" cy="873.3" rx="2.3" ry="3.8" fill="none" stroke="#444" stroke-width="1"/>
</g>

</g>
<!-- 99_watermark.svg -->
<g font-family="'Liberation Serif',serif" font-size="63" fill="#000" fill-opacity="0.072">
<text x="115" y="729" font-size="70">©</text>
<text x="181" y="725.3" textLength="306" lengthAdjust="spacingAndGlyphs">Automotive</text>
<text x="510" y="724.6" textLength="262" lengthAdjust="spacingAndGlyphs">Literature</text>
<text x="793" y="725" textLength="188" lengthAdjust="spacingAndGlyphs">Europe</text>
</g>

</svg>
</body></html>
